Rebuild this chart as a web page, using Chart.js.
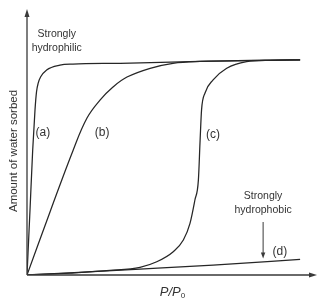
<!DOCTYPE html>
<html>
<head>
<meta charset="utf-8">
<script src="https://cdn.jsdelivr.net/npm/chart.js@4.4.1/dist/chart.umd.min.js"></script>
<style>
html,body{margin:0;padding:0;background:#fff;}
canvas{display:block;}
</style>
</head>
<body>
<canvas id="c" width="324" height="303"></canvas>
<script>
// Relative pressure P/P0 (0..1) and amount sorbed (0..1, arbitrary units)
const curveA_x = [0, 0.0104, 0.0197, 0.0277, 0.0329, 0.039, 0.0474, 0.068, 0.114, 0.159, 0.322, 0.599, 0.945];
const curveA_y = [0, 0.245, 0.472, 0.623, 0.691, 0.725, 0.748, 0.774, 0.792, 0.796, 0.799, 0.806, 0.812];

const curveB_x = [0, 0.0796, 0.160, 0.2076, 0.2526, 0.2976, 0.346, 0.426, 0.505, 0.599, 0.772, 0.945];
const curveB_y = [0, 0.238, 0.472, 0.5925, 0.660, 0.7094, 0.747, 0.780, 0.799, 0.806, 0.810, 0.812];

const curveC_x = [0, 0.149, 0.287, 0.391, 0.449, 0.506, 0.541, 0.564, 0.581, 0.593, 0.599, 0.604, 0.616, 0.644, 0.691, 0.760, 0.841, 0.945];
const curveC_y = [0, 0.0075, 0.017, 0.029, 0.050, 0.088, 0.132, 0.195, 0.283, 0.358, 0.509, 0.623, 0.687, 0.736, 0.780, 0.805, 0.810, 0.812];

const curveD_x = [0, 0.391, 0.644, 0.945];
const curveD_y = [0, 0.022, 0.037, 0.059];

const seriesLabels = ["(a)", "(b)", "(c)", "(d)"];
const xAxisLabel = "P/P";
const xAxisSub = "0";
const yAxisLabel = "Amount of water sorbed";
const hydrophilicText = ["Strongly", "hydrophilic"];
const hydrophobicText = ["Strongly", "hydrophobic"];

function pts(xs, ys) { return xs.map((x, i) => ({x: x, y: ys[i]})); }

const lineColor = '#262626';
const textColor = '#333333';
const FONT = '"Liberation Sans", Arial, Helvetica, sans-serif';

function ds(xs, ys, label, mode) {
  return {
    label: label,
    data: pts(xs, ys),
    borderColor: lineColor,
    borderWidth: 1.25,
    pointRadius: 0,
    fill: false,
    cubicInterpolationMode: mode || 'monotone',
    tension: 0.4
  };
}

const decor = {
  id: 'decor',
  afterDraw(chart) {
    const ctx = chart.ctx;
    const xs = chart.scales.x, ys = chart.scales.y;
    const X = v => xs.getPixelForValue(v);
    const Y = v => ys.getPixelForValue(v);
    const x0 = X(0), y0 = Y(0);
    const xEnd = chart.chartArea.right, yTop = chart.chartArea.top;
    ctx.save();
    // axes
    ctx.strokeStyle = '#3a3a3a';
    ctx.fillStyle = '#3a3a3a';
    ctx.lineWidth = 1.3;
    ctx.beginPath();
    ctx.moveTo(x0, y0); ctx.lineTo(x0, yTop + 4);
    ctx.moveTo(x0, y0); ctx.lineTo(xEnd - 4, y0);
    ctx.stroke();
    // arrowheads
    ctx.beginPath();
    ctx.moveTo(x0, yTop - 1); ctx.lineTo(x0 - 2.5, yTop + 7); ctx.lineTo(x0 + 2.5, yTop + 7); ctx.closePath();
    ctx.fill();
    ctx.beginPath();
    ctx.moveTo(xEnd + 1, y0); ctx.lineTo(xEnd - 7, y0 - 2.5); ctx.lineTo(xEnd - 7, y0 + 2.5); ctx.closePath();
    ctx.fill();

    ctx.fillStyle = textColor;
    ctx.textAlign = 'center';
    ctx.textBaseline = 'middle';
    // series labels
    ctx.font = '12px ' + FONT;
    const labPos = [[0.055, 0.536], [0.260, 0.536], [0.644, 0.528], [0.875, 0.087]];
    seriesLabels.forEach((t, i) => ctx.fillText(t, X(labPos[i][0]), Y(labPos[i][1])));
    // annotations
    ctx.font = '10.5px ' + FONT;
    ctx.fillText(hydrophilicText[0], X(0.103), Y(0.908));
    ctx.fillText(hydrophilicText[1], X(0.103), Y(0.858));
    ctx.fillText(hydrophobicText[0], X(0.817), Y(0.296));
    ctx.fillText(hydrophobicText[1], X(0.817), Y(0.246));
    // arrow down
    const ax = X(0.817);
    ctx.strokeStyle = '#3a3a3a';
    ctx.fillStyle = '#3a3a3a';
    ctx.lineWidth = 1;
    ctx.beginPath();
    ctx.moveTo(ax, Y(0.2)); ctx.lineTo(ax, Y(0.062) - 5);
    ctx.stroke();
    ctx.beginPath();
    ctx.moveTo(ax, Y(0.062)); ctx.lineTo(ax - 2.2, Y(0.062) - 6); ctx.lineTo(ax + 2.2, Y(0.062) - 6); ctx.closePath();
    ctx.fill();

    // y axis title
    ctx.fillStyle = textColor;
    ctx.font = '11.5px ' + FONT;
    ctx.save();
    ctx.translate(13.5, Y(0.468));
    ctx.rotate(-Math.PI / 2);
    ctx.fillText(yAxisLabel, 0, 0);
    ctx.restore();

    // x axis title: italic P/P with subscript 0
    ctx.font = 'italic 13px ' + FONT;
    ctx.textAlign = 'left';
    ctx.textBaseline = 'alphabetic';
    const w1 = ctx.measureText(xAxisLabel).width;
    ctx.font = '8px ' + FONT;
    const w2 = ctx.measureText(xAxisSub).width;
    const cx = X(0.5);
    const sx = cx - (w1 + w2) / 2 + 1;
    const base = y0 + 21;
    ctx.font = 'italic 13px ' + FONT;
    ctx.fillText(xAxisLabel, sx, base);
    ctx.font = '8px ' + FONT;
    ctx.fillText(xAxisSub, sx + w1, base + 2);
    ctx.restore();
  }
};

new Chart(document.getElementById('c'), {
  type: 'line',
  data: {
    datasets: [
      ds(curveA_x, curveA_y, seriesLabels[0]),
      ds(curveB_x, curveB_y, seriesLabels[1], 'default'),
      ds(curveC_x, curveC_y, seriesLabels[2]),
      ds(curveD_x, curveD_y, seriesLabels[3])
    ]
  },
  options: {
    responsive: false,
    animation: false,
    devicePixelRatio: 1,
    layout: { padding: { left: 27, right: 8, top: 10, bottom: 28 } },
    plugins: { legend: { display: false }, tooltip: { enabled: false } },
    scales: {
      x: { type: 'linear', min: 0, max: 1, display: false },
      y: { type: 'linear', min: 0, max: 1, display: false }
    }
  },
  plugins: [decor]
});
</script>
</body>
</html>
